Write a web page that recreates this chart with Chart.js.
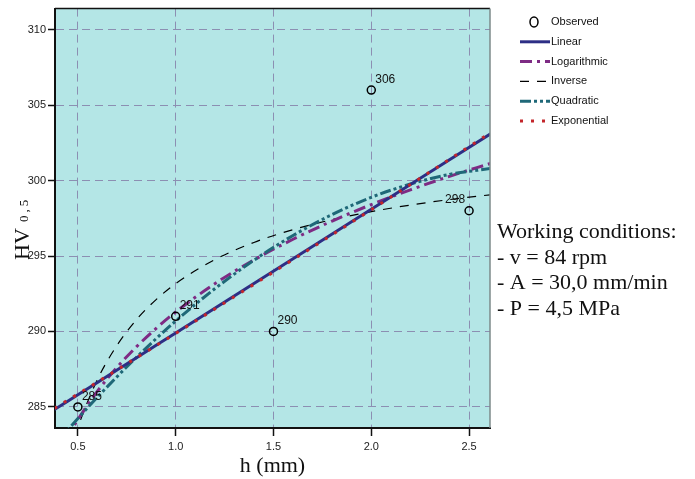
<!DOCTYPE html>
<html lang="en">
<head>
    <meta charset="UTF-8">
    <title>HV 0,5 vs h</title>
    <script src="https://cdn.jsdelivr.net/npm/chart.js"></script>
    <style>
        * { margin: 0; padding: 0; box-sizing: border-box; }
        body { background: #fff; }
        .chart-container { width: 695px; height: 479px; position: relative; }
    </style>
</head>
<body>
    <div class="chart-container">
        <canvas id="hvChart"></canvas>
    </div>

    <script>
        // Observed points
        const obsX = [0.5, 1.0, 1.5, 2.0, 2.5];
        const obsY = [285, 291, 290, 306, 298];

        // Sample positions along h for the fitted curves
        const fitX = [0.38, 0.45, 0.5, 0.6, 0.7, 0.8, 0.9, 1.0, 1.2, 1.4, 1.6, 1.8, 2.0, 2.2, 2.4, 2.61];
        const linearY = [284.82, 285.39, 285.8, 286.62, 287.44, 288.26, 289.08, 289.9, 291.54, 293.18, 294.82, 296.46, 298.1, 299.74, 301.38, 303.1];
        const logY = [281.34, 283.08, 284.16, 286.04, 287.62, 288.99, 290.2, 291.29, 293.16, 294.74, 296.11, 297.32, 298.41, 299.39, 300.28, 301.14];
        const inverseY = [277.6, 281.51, 283.63, 286.81, 289.08, 290.79, 292.11, 293.17, 294.76, 295.9, 296.75, 297.41, 297.94, 298.38, 298.74, 299.06];
        const quadY = [282.45, 283.5, 284.23, 285.65, 287.0, 288.29, 289.52, 290.69, 292.83, 294.72, 296.36, 297.75, 298.89, 299.77, 300.41, 300.8];
        const expY = [284.9, 285.46, 285.85, 286.65, 287.45, 288.26, 289.06, 289.87, 291.49, 293.12, 294.76, 296.41, 298.07, 299.74, 301.41, 303.18];

        // Axis ticks
        const xTicks = [0.5, 1.0, 1.5, 2.0, 2.5];
        const yTicks = [285, 290, 295, 300, 305, 310];

        const conditions = ['Working conditions:', '- v = 84 rpm', '- A = 30,0 mm/min', '- P = 4,5 MPa'];

        const pts = (xs, ys) => xs.map((x, i) => ({ x: x, y: ys[i] }));

        // background, frame, labels, legend
        const decorations = {
            id: 'decorations',
            beforeDatasetsDraw(chart) {
                const { ctx, chartArea: a } = chart;
                ctx.save();
                ctx.fillStyle = '#b4e6e6';
                ctx.globalCompositeOperation = 'destination-over';
                ctx.fillRect(a.left, a.top, a.right - a.left, a.bottom - a.top);
                ctx.restore();
            },
            afterDraw(chart) {
                const { ctx, chartArea: a, scales } = chart;
                ctx.save();
                // top and right frame
                ctx.strokeStyle = '#111';
                ctx.lineWidth = 1.5;
                ctx.beginPath();
                ctx.moveTo(a.left, a.top);
                ctx.lineTo(a.right, a.top);
                ctx.stroke();
                ctx.strokeStyle = '#7d8a8a';
                ctx.lineWidth = 1.5;
                ctx.beginPath();
                ctx.moveTo(a.right, a.top);
                ctx.lineTo(a.right, a.bottom);
                ctx.stroke();

                // point labels
                ctx.fillStyle = '#111';
                ctx.font = '12px "Liberation Sans", Arial, sans-serif';
                obsX.forEach((x, i) => {
                    const px = scales.x.getPixelForValue(x);
                    const py = scales.y.getPixelForValue(obsY[i]);
                    if (i === obsX.length - 1) {
                        ctx.textAlign = 'right';
                        ctx.fillText(String(obsY[i]), px - 4, py - 8);
                    } else {
                        ctx.textAlign = 'left';
                        ctx.fillText(String(obsY[i]), px + 4, py - 7);
                    }
                });

                // legend
                ctx.font = '11px "Liberation Sans", Arial, sans-serif';
                ctx.textAlign = 'left';
                ctx.textBaseline = 'middle';
                const legendOrder = [0, 2, 3, 4, 5, 1];
                legendOrder.forEach((idx, row) => {
                    const ds = chart.data.datasets[idx];
                    const y = 22 + row * 19.8;
                    if (idx === 0) {
                        ctx.strokeStyle = '#000';
                        ctx.lineWidth = 1.5;
                        ctx.setLineDash([]);
                        ctx.beginPath();
                        ctx.ellipse(534, y, 4, 5, 0, 0, Math.PI * 2);
                        ctx.stroke();
                        ctx.fillStyle = '#111';
                        ctx.fillText(ds.label, 551, y);
                    } else {
                        ctx.strokeStyle = ds.borderColor;
                        ctx.lineWidth = ds.borderWidth;
                        ctx.setLineDash(ds.borderDash || []);
                        ctx.beginPath();
                        ctx.moveTo(520, y);
                        ctx.lineTo(550, y);
                        ctx.stroke();
                        ctx.setLineDash([]);
                        ctx.fillStyle = '#111';
                        ctx.fillText(ds.label, 551, y);
                    }
                });

                // working conditions
                ctx.textBaseline = 'alphabetic';
                ctx.font = '22px "Liberation Serif", "Times New Roman", serif';
                conditions.forEach((t, i) => ctx.fillText(t, 497, 238 + i * 25.5));

                // y title: HV 0,5
                ctx.translate(29, 232);
                ctx.rotate(-Math.PI / 2);
                ctx.textAlign = 'left';
                ctx.font = '22px "Liberation Serif", "Times New Roman", serif';
                const w = ctx.measureText('HV').width;
                ctx.fillText('HV', -w / 2 - 12, 0);
                ctx.font = '13px "Liberation Serif", "Times New Roman", serif';
                ctx.letterSpacing = '3px';
                ctx.fillText('0,5', w / 2 - 6, -1);
                ctx.restore();
            }
        };

        new Chart(document.getElementById('hvChart'), {
            type: 'line',
            data: {
                datasets: [{
                    label: 'Observed',
                    data: pts(obsX, obsY),
                    showLine: false,
                    pointRadius: 4,
                    pointStyle: 'circle',
                    pointBorderColor: '#000',
                    pointBackgroundColor: 'rgba(0,0,0,0)',
                    pointBorderWidth: 1.5,
                    borderColor: '#000',
                    order: 0
                }, {
                    label: 'Exponential',
                    data: pts(fitX, expY),
                    borderColor: '#c3262b',
                    borderWidth: 3,
                    borderDash: [3, 8],
                    pointRadius: 0,
                    cubicInterpolationMode: 'monotone',
                    order: 1
                }, {
                    label: 'Linear',
                    data: pts(fitX, linearY),
                    borderColor: '#2d2f85',
                    borderWidth: 3,
                    pointRadius: 0,
                    order: 2
                }, {
                    label: 'Logarithmic',
                    data: pts(fitX, logY),
                    borderColor: '#7e2b84',
                    borderWidth: 3,
                    borderDash: [12, 5, 3, 5],
                    pointRadius: 0,
                    cubicInterpolationMode: 'monotone',
                    order: 4
                }, {
                    label: 'Inverse',
                    data: pts(fitX, inverseY),
                    borderColor: '#000',
                    borderWidth: 1.2,
                    borderDash: [9, 8],
                    pointRadius: 0,
                    cubicInterpolationMode: 'monotone',
                    order: 5
                }, {
                    label: 'Quadratic',
                    data: pts(fitX, quadY),
                    borderColor: '#1f6878',
                    borderWidth: 3,
                    borderDash: [11, 3, 3, 3, 3, 3],
                    pointRadius: 0,
                    cubicInterpolationMode: 'monotone',
                    order: 3
                }]
            },
            options: {
                responsive: true,
                maintainAspectRatio: false,
                animation: false,
                layout: { padding: { top: 6, right: 205, left: 0, bottom: 0 } },
                plugins: {
                    legend: { display: false },
                    tooltip: { enabled: false }
                },
                scales: {
                    x: {
                        type: 'linear',
                        min: 0.383,
                        max: 2.607,
                        afterBuildTicks: s => { s.ticks = xTicks.map(v => ({ value: v })); },
                        afterFit: s => { s.height = 51; },
                        ticks: {
                            color: '#222',
                            font: { family: '"Liberation Sans", Arial, sans-serif', size: 11 },
                            padding: 4,
                            maxRotation: 0,
                            callback: v => v.toFixed(1)
                        },
                        grid: {
                            color: '#8c8fb2',
                            lineWidth: 1,
                            tickLength: 8,
                            tickColor: '#111',
                            tickWidth: 1.5,
                            tickBorderDash: []
                        },
                        border: { display: true, color: '#111', width: 2, dash: [8, 5] },
                        title: {
                            display: true,
                            text: 'h (mm)',
                            color: '#111',
                            font: { family: '"Liberation Serif", "Times New Roman", serif', size: 22 },
                            padding: { top: -4, bottom: 0 }
                        }
                    },
                    y: {
                        min: 283.6,
                        max: 311.4,
                        afterBuildTicks: s => { s.ticks = yTicks.map(v => ({ value: v })); },
                        afterFit: s => { s.width = 55; },
                        ticks: {
                            color: '#222',
                            font: { family: '"Liberation Sans", Arial, sans-serif', size: 11 },
                            padding: 2
                        },
                        grid: {
                            color: '#8c8fb2',
                            lineWidth: 1,
                            tickLength: 7,
                            tickColor: '#111',
                            tickWidth: 1.5,
                            tickBorderDash: []
                        },
                        border: { display: true, color: '#111', width: 2, dash: [8, 5] }
                    }
                }
            },
            plugins: [decorations]
        });
    </script>
</body>
</html>
